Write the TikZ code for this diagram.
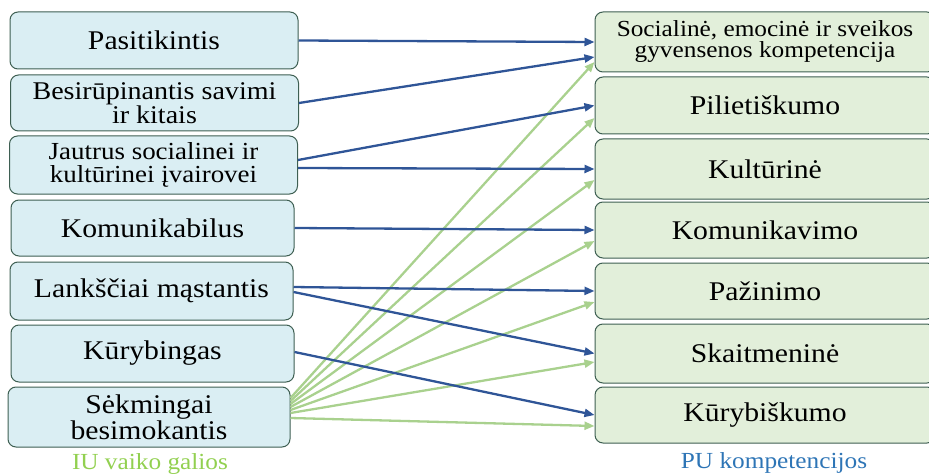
\documentclass[tikz,border=0pt]{standalone}
\usepackage{fontspec}
\setmainfont[FakeStretch=1.1]{Liberation Serif}
\usepackage{tikz}
\usetikzlibrary{arrows.meta}
\definecolor{boxline}{HTML}{3E5F52}
\definecolor{leftfill}{HTML}{DAEEF3}
\definecolor{rightfill}{HTML}{E2EFDA}
\definecolor{darkblue}{HTML}{2F5597}
\definecolor{lightgreen}{HTML}{A9D18E}
\definecolor{iugreen}{HTML}{92D050}
\definecolor{publue}{HTML}{2E75B6}
\tikzset{
  galia/.style={draw=boxline, fill=leftfill, rounded corners=8pt, line width=1pt,
    minimum width=288pt, inner sep=0pt, align=center, font=\fontsize{27}{23}\selectfont},
  komp/.style={draw=boxline, fill=rightfill, rounded corners=8pt, line width=1pt,
    minimum width=340pt, inner sep=0pt, align=center, font=\fontsize{27}{23}\selectfont},
  ryssys/.style={-{Triangle[length=10pt,width=8pt]}, line width=2.3pt, darkblue},
  zalias/.style={-{Triangle[length=10pt,width=8pt]}, line width=2.3pt, lightgreen}
}

\begin{document}
\begin{tikzpicture}[x=1pt, y=-1pt]
  \useasboundingbox (0,0) rectangle (929,476);
  \node[galia, minimum height=57pt] (pas) at (154,40.5) {Pasitikintis};
  \node[galia, minimum height=56pt, font=\fontsize{25.5}{23}\selectfont] (bes) at (154.5,103) {Besirūpinantis savimi\\ir kitais};
  \node[galia, minimum height=58pt, font=\fontsize{24.5}{23.5}\selectfont] (jau) at (153.5,165) {Jautrus socialinei ir\\kultūrinei įvairovei};
  \node[galia, minimum height=56pt, minimum width=283pt] (kom) at (152.5,228) {Komunikabilus};
  \node[galia, minimum height=58pt, minimum width=283pt] (lan) at (151.5,291) {Lankščiai mąstantis};
  \node[galia, minimum height=57pt, minimum width=283pt] (kur) at (152.5,353.5) {Kūrybingas};
  \node[galia, minimum height=60pt, minimum width=282pt] (sek) at (149,417) {Sėkmingai\\besimokantis};
  \node[text=iugreen, font=\fontsize{23}{23}\selectfont] (iu) at (150,464) {IU vaiko galios};

  \node[komp, minimum height=60pt, font=\fontsize{23}{21}\selectfont] (soc) at (765,42) {Socialinė, emocinė ir sveikos\\gyvensenos kompetencija};
  \node[komp, minimum height=57pt] (pil) at (765,105.5) {Pilietiškumo};
  \node[komp, minimum height=60pt] (kul) at (765,169) {Kultūrinė};
  \node[komp, minimum height=56pt] (kmv) at (765,230) {Komunikavimo};
  \node[komp, minimum height=56pt] (paz) at (765,291) {Pažinimo};
  \node[komp, minimum height=59pt] (ska) at (765,353.5) {Skaitmeninė};
  \node[komp, minimum height=56pt] (kby) at (765,415) {Kūrybiškumo};
  \node[text=publue, font=\fontsize{23}{23}\selectfont] (pu) at (774,463) {PU kompetencijos};

  \foreach \dst/\s/\d in {soc/19/-20, pil/16/-12.5, kul/13/-11, kmv/10/-11, paz/7/-11, ska/4/-8.5, kby/-1/-11} {
    \draw[zalias] ([yshift=\s]sek.east) -- ([yshift=\d]\dst.west);
  }

  \draw[ryssys] (pas.east) -- (soc.west);
  \draw[ryssys] (bes.east) -- ([yshift=-15]soc.west);
  \draw[ryssys] ([yshift=5]jau.east) -- (pil.west);
  \draw[ryssys] ([yshift=-3]jau.east) -- (kul.west);
  \draw[ryssys] (kom.east) -- (kmv.west);
  \draw[ryssys] ([yshift=4]lan.east) -- (paz.west);
  \draw[ryssys] ([yshift=-1]lan.east) -- (ska.west);
  \draw[ryssys] ([yshift=1.5]kur.east) -- (kby.west);
\end{tikzpicture}
\end{document}
